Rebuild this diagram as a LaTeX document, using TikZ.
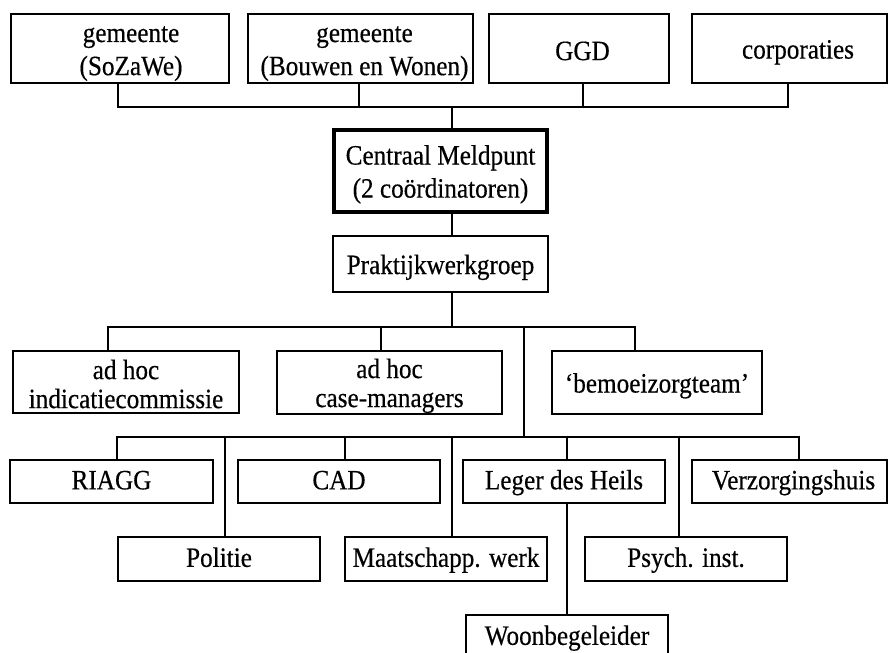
\documentclass[tikz,border=0pt]{standalone}
\usepackage{fontspec}
\setmainfont{Liberation Serif}[FakeStretch=0.9,FakeBold=0.4]
% struts: tall boxes set their text a little low, short boxes less so
\newcommand\Ls{\rule[-0.1\baselineskip]{0pt}{\baselineskip}}
\newcommand\Ss{\rule[-0.23\baselineskip]{0pt}{\baselineskip}}
\begin{document}
\begin{tikzpicture}[x=1pt,y=-1pt,
  box/.style={draw, line width=1.8pt, inner sep=0pt, outer sep=0pt,
    align=center, font=\fontsize{28}{29}\selectfont},
  mainbox/.style={box, line width=3.6pt},
  link/.style={line width=1.8pt}]
\clip (0,0) rectangle (889,653);
\fill[white] (0,0) rectangle (889,653);

% funding partners
\node[box, minimum width=218pt, minimum height=69pt] (sozawe) at (120,48.5)
  {\hspace*{22pt}gemeente\Ls\\\hspace*{22pt}(SoZaWe)\Ls};
\node[box, minimum width=225pt, minimum height=69pt] (bouwen) at (360.5,48.5)
  {\hspace*{8pt}gemeente\Ls\\\hspace*{8pt}(Bouwen en Wonen)\Ls};
\node[box, minimum width=180pt, minimum height=69pt] (ggd) at (579,48.5) {\hspace*{7pt}GGD\Ls};
\node[box, minimum width=195pt, minimum height=69pt] (corp) at (789.5,48.5) {\hspace*{17pt}corporaties\Ls};

% central coordination
\node[mainbox, minimum width=213pt, minimum height=82pt] (meldpunt) at (440.5,171)
  {Centraal Meldpunt\Ls\\(2 coördinatoren)\Ls};
\node[box, minimum width=215pt, minimum height=56pt] (praktijk) at (440.5,264) {Praktijkwerkgroep\Ls};

% ad hoc groups
\node[box, minimum width=226pt, minimum height=62pt] (indicatie) at (126,382)
  {ad hoc\Ls\\indicatiecommissie\Ls};
\node[box, minimum width=225pt, minimum height=63pt] (casemgr) at (389.5,382.5)
  {ad hoc\Ls\\case-managers\Ls};
\node[box, minimum width=210pt, minimum height=63pt] (bemoei) at (657,382.5) {‘bemoeizorgteam’\Ls};

% participating organisations, upper row
\node[box, minimum width=203pt, minimum height=43pt] (riagg) at (111.5,481.5) {RIAGG\Ss};
\node[box, minimum width=202pt, minimum height=43pt] (cad) at (339,481.5) {CAD\Ss};
\node[box, minimum width=202pt, minimum height=43pt] (leger) at (564,481.5) {Leger des Heils\Ss};
\node[box, minimum width=195pt, minimum height=43pt] (verzorg) at (789.5,481.5) {\hspace*{8pt}Verzorgingshuis\Ss};

% participating organisations, lower row
\node[box, minimum width=202pt, minimum height=44pt] (politie) at (219,559) {Politie\Ss};
\node[box, minimum width=202pt, minimum height=44pt] (maatsch) at (446,559) {Maatschapp. werk\Ss};
\node[box, minimum width=202pt, minimum height=44pt] (psych) at (686,559) {Psych. inst.\Ss};

\node[box, minimum width=202pt, minimum height=44pt] (woon) at (567,637) {Woonbegeleider\Ss};

% junction points of the bars
\coordinate (topbar) at (452,107);
\coordinate (midbar) at (452,327);
\coordinate (fork) at (524,327);
\coordinate (lowbar) at (524,437);

% top bar
\draw[link] ([xshift=-2pt]sozawe.south) |- ([xshift=6pt]topbar) -| ([xshift=-1.5pt]corp.south);
\draw[link] ([xshift=-1.5pt]bouwen.south) -- ++(0,24);
\draw[link] ([xshift=4pt]ggd.south) -- ++(0,24);
\draw[link] (topbar) -- (meldpunt.north -| topbar);
\draw[link] (meldpunt.south -| topbar) -- (praktijk.north -| topbar);
\draw[link] (praktijk.south -| midbar) -- (midbar);

% middle bar
\draw[link] ([xshift=-18pt]indicatie.north) |- (fork);
\draw[link] (fork) -| ([xshift=-22pt]bemoei.north);
\draw[link] ([xshift=-8.5pt]casemgr.north) -- ++(0,-24);
\draw[link] (fork) -- (lowbar);

% lower bar
\draw[link] ([xshift=5.5pt]riagg.north) |- (lowbar) -| ([xshift=9.5pt]verzorg.north);
\draw[link] ([xshift=6pt]politie.north) -- ++(0,-100);
\draw[link] ([xshift=6pt]cad.north) -- ++(0,-23);
\draw[link] ([xshift=6pt]maatsch.north) -- ++(0,-100);
\draw[link] ([xshift=3pt]leger.north) -- ++(0,-23);
\draw[link] ([xshift=-7pt]psych.north) -- ++(0,-100);
\draw[link] ([xshift=3pt]leger.south) -- (woon.north);
\end{tikzpicture}
\end{document}
